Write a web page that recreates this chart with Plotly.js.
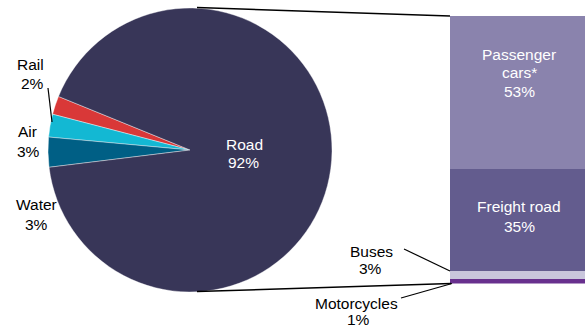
<!DOCTYPE html>
<html>
<head>
<meta charset="utf-8">
<script src="https://cdn.plot.ly/plotly-3.0.1.min.js"></script>
<style>html,body{margin:0;padding:0;background:#fff;}#chart{width:585px;height:329px;}</style>
</head>
<body>
<div id="chart"></div>
<script>
// Pie: transport modes (share, %)
const pieLabels = ['Rail', 'Air', 'Water', 'Road'];
const pieValues = [2.1, 2.6, 3.4, 91.9];
const pieColors = ['#d93838', '#13b8d3', '#005f85', '#383658'];

// Stacked bar: breakdown of Road (bottom to top)
const barLabels = ['Motorcycles', 'Buses', 'Freight road', 'Passenger cars*'];
const barValues = [1.4, 3.0, 35.1, 52.6];
const barColors = ['#68308e', '#c9c6dc', '#635c8e', '#8a83ad'];

const W = 585, H = 329;
const px = x => x / W;
const py = y => 1 - y / H;
const FONT = 'Liberation Sans, Arial, sans-serif';
const FS = 15.5;

const pieTotal = pieValues.reduce((a, b) => a + b, 0);
const pct = v => Math.round(v / pieTotal * 100) + '%';

const traces = [{
  type: 'pie',
  labels: pieLabels,
  values: pieValues,
  sort: false,
  direction: 'counterclockwise',
  rotation: -75.4,
  marker: {colors: pieColors, line: {color: '#ffffff', width: 0.4}},
  textposition: 'none',
  domain: {x: [px(48), px(332)], y: [py(292), py(8)]},
  showlegend: false,
  hoverinfo: 'label+percent'
}];

barLabels.forEach((lab, i) => {
  traces.push({
    type: 'bar',
    x: ['Road'],
    y: [barValues[i]],
    name: lab,
    marker: {color: barColors[i], line: {width: 0}},
    textposition: 'none',
    showlegend: false
  });
});
const barTotal = barValues.reduce((a, b) => a + b, 0);

// label placement (pixel centres of each text line)
const labelPos = {
  'Rail':            [[30.5, 64], [32, 83]],
  'Air':             [[27.5, 132], [28, 151]],
  'Water':           [[36, 205], [36.5, 224]],
  'Road':            [[244, 145], [243, 162.5]],
  'Buses':           [[371, 251], [370.5, 268.5]],
  'Motorcycles':     [[356.5, 303.5], [358, 319.5]],
  'Freight road':    [[519, 206.7], [519, 226.7]],
  'Passenger cars*': [[519, 54.7], [519, 72.8], [519, 91]]
};
const white = new Set(['Road', 'Freight road', 'Passenger cars*']);

const annotations = [];
function addLabel(lab, valueText) {
  const pos = labelPos[lab];
  const lines = pos.length === 3 ? lab.split(' ').concat([valueText]) : [lab, valueText];
  lines.forEach((t, k) => {
    annotations.push({
      xref: 'paper', yref: 'paper',
      x: px(pos[k][0]), y: py(pos[k][1]),
      text: t, showarrow: false, xanchor: 'center', yanchor: 'middle',
      font: {size: FS, family: FONT, color: white.has(lab) ? '#ffffff' : '#000000'}
    });
  });
}
pieLabels.forEach((lab, i) => addLabel(lab, pct(pieValues[i])));
barLabels.forEach((lab, i) => addLabel(lab, Math.round(barValues[i]) + '%'));

const line = (x0, y0, x1, y1, w) => ({type: 'line', xref: 'paper', yref: 'paper',
  x0: px(x0), y0: py(y0), x1: px(x1), y1: py(y1), line: {color: '#000000', width: w}});

const layout = {
  width: W, height: H,
  margin: {l: 0, r: 0, t: 0, b: 0},
  paper_bgcolor: '#ffffff', plot_bgcolor: '#ffffff',
  font: {family: FONT, size: FS, color: '#000000'},
  barmode: 'stack', bargap: 0,
  xaxis: {domain: [px(450), 1], type: 'category', range: [-0.5, 0.5], visible: false, fixedrange: true},
  yaxis: {domain: [py(283.5), py(16)], range: [0, barTotal], visible: false, fixedrange: true},
  showlegend: false,
  annotations: annotations,
  shapes: [
    line(197, 7.5, 450, 16, 1.5),
    line(197, 291.5, 451, 283.5, 1.5),
    line(48, 88, 52, 122, 1.2),
    line(404, 249, 450, 271, 1.2),
    line(401, 298, 452, 283.5, 1.2)
  ]
};

Plotly.newPlot('chart', traces, layout, {staticPlot: true, displayModeBar: false});
</script>
</body>
</html>
